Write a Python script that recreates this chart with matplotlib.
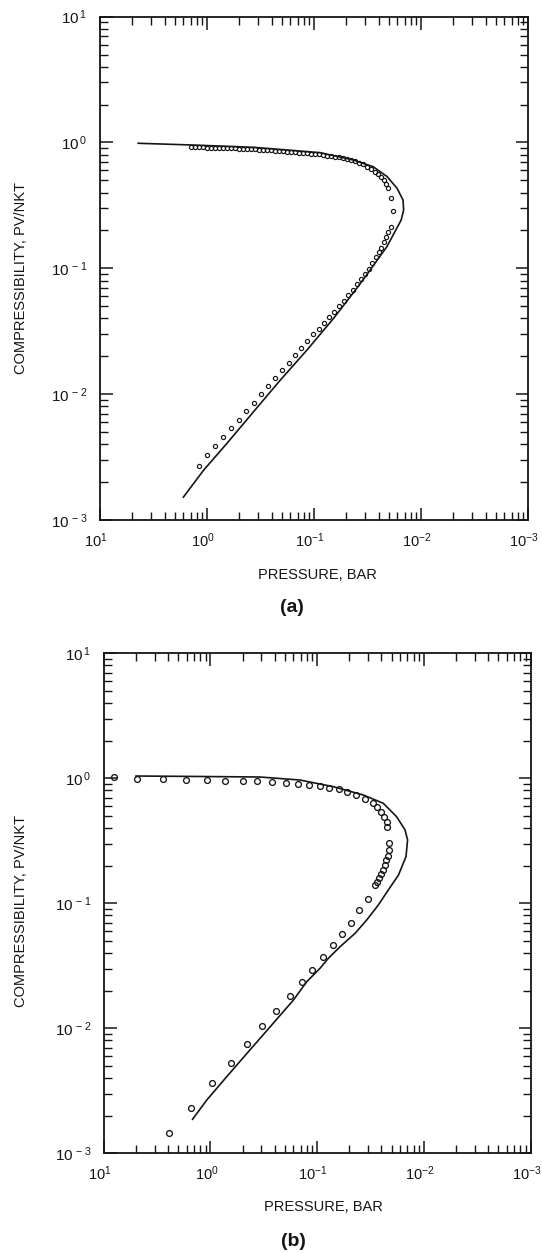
import matplotlib
matplotlib.use('Agg')
import matplotlib.pyplot as plt
import matplotlib.transforms as mtransforms
from matplotlib.ticker import LogLocator, NullFormatter

plt.rcParams['font.family'] = ['Liberation Sans', 'DejaVu Sans']
plt.rcParams['mathtext.default'] = 'regular'

INK = '#151515'

# (a) calculated curve
p_line_a = [4.42, 1.38, 0.372, 0.0879, 0.0432, 0.0281, 0.0208, 0.0168, 0.0148, 0.0146,
            0.0154, 0.0169, 0.0209, 0.0300, 0.0405, 0.0660, 0.117, 0.208, 0.369, 0.655,
            1.08, 1.67]
z_line_a = [0.986, 0.955, 0.916, 0.830, 0.726, 0.642, 0.535, 0.432, 0.349, 0.291,
            0.242, 0.209, 0.149, 0.0969, 0.0685, 0.0400, 0.0224, 0.0129, 0.00725, 0.00406,
            0.00249, 0.00152]

# (a) simulation points
p_pts_a = [1.41, 1.30, 1.19, 1.09, 1.00, 0.918, 0.842, 0.772, 0.709, 0.650,
           0.597, 0.547, 0.502, 0.461, 0.423, 0.388, 0.356, 0.327, 0.300, 0.275,
           0.252, 0.231, 0.212, 0.195, 0.179, 0.164, 0.151, 0.138, 0.127, 0.116,
           0.107, 0.0979, 0.0898, 0.0824, 0.0756, 0.0694, 0.0636, 0.0584, 0.0536, 0.0491,
           0.0451, 0.0414, 0.0380, 0.0348, 0.0320, 0.0293, 0.0269, 0.0252, 0.0237, 0.0222,
           0.0212, 0.0203,
           0.0193, 0.0184,
           0.0193, 0.0203, 0.0212, 0.0224, 0.0237, 0.0250, 0.0266, 0.0287, 0.0310, 0.0334,
           0.0364, 0.0396, 0.0437, 0.0481, 0.0530, 0.0584, 0.0650, 0.0724, 0.0806, 0.0908,
           0.102, 0.116, 0.132, 0.151, 0.173, 0.199, 0.231, 0.269, 0.313, 0.368,
           0.432, 0.508, 0.597, 0.709, 0.842, 1.00, 1.20]
z_pts_a = [0.921, 0.918, 0.914, 0.913, 0.911, 0.909, 0.908, 0.906, 0.904, 0.903,
           0.901, 0.898, 0.894, 0.891, 0.888, 0.885, 0.881, 0.878, 0.873, 0.869,
           0.864, 0.859, 0.854, 0.850, 0.845, 0.841, 0.836, 0.831, 0.827, 0.821,
           0.815, 0.809, 0.803, 0.796, 0.788, 0.781, 0.773, 0.764, 0.753, 0.741,
           0.726, 0.709, 0.690, 0.669, 0.644, 0.618, 0.588, 0.562, 0.532, 0.499,
           0.468, 0.435,
           0.365, 0.283,
           0.214, 0.194, 0.177, 0.162, 0.146, 0.134, 0.122, 0.110, 0.0996, 0.0909,
           0.0822, 0.0750, 0.0678, 0.0613, 0.0555, 0.0502, 0.0453, 0.0410, 0.0371, 0.0332,
           0.0298, 0.0264, 0.0233, 0.0205, 0.0178, 0.0155, 0.0134, 0.0116, 0.0100, 0.00857,
           0.00734, 0.00628, 0.00538, 0.00456, 0.00387, 0.00328, 0.00268]

# (b) calculated curve
p_line_b = [4.98, 1.25, 0.343, 0.145, 0.0705, 0.0369, 0.0240, 0.0180, 0.0150, 0.0142,
            0.0147, 0.0173, 0.0215, 0.0267, 0.0343, 0.0441, 0.0610, 0.0785, 0.0939, 0.125,
            0.167, 0.257, 0.426, 0.703, 1.08, 1.47]
z_line_b = [1.043, 1.034, 1.024, 0.969, 0.857, 0.735, 0.631, 0.493, 0.386, 0.321,
            0.236, 0.168, 0.128, 0.0969, 0.0735, 0.0575, 0.0449, 0.0363, 0.0302, 0.0236,
            0.0168, 0.0110, 0.00671, 0.00410, 0.00267, 0.00187]

# (b) simulation points
p_pts_b = [8.0, 4.84, 2.80, 1.69, 1.07, 0.730, 0.498, 0.368, 0.266, 0.197,
           0.151, 0.119, 0.0945, 0.0774, 0.0623, 0.0521, 0.0432, 0.0356, 0.0301, 0.0273,
           0.0252, 0.0236, 0.0223, 0.0220, 0.0211, 0.0214, 0.0219, 0.0225, 0.0233, 0.0241,
           0.0252, 0.0261, 0.0273, 0.0287, 0.0336, 0.0409, 0.0481, 0.0580, 0.0717, 0.0886,
           0.112, 0.139, 0.180, 0.244, 0.326, 0.457, 0.645, 0.972, 1.52, 2.43]
z_pts_b = [1.024, 0.996, 0.982, 0.969, 0.973, 0.960, 0.952, 0.943, 0.926, 0.912,
           0.900, 0.884, 0.868, 0.841, 0.817, 0.777, 0.735, 0.679, 0.631, 0.586,
           0.541, 0.493, 0.449, 0.406, 0.304, 0.267, 0.241, 0.220, 0.201, 0.185,
           0.170, 0.159, 0.149, 0.139, 0.108, 0.0876, 0.0696, 0.0571, 0.0466, 0.0372,
           0.0293, 0.0235, 0.0181, 0.0138, 0.0104, 0.00749, 0.00531, 0.00363, 0.00232, 0.00145]

x_ticks = [10, 1, 0.1, 0.01, 0.001]
x_labels = [r'$10^{1}$', r'$10^{0}$', r'$10^{-1}$', r'$10^{-2}$', r'$10^{-3}$']
y_ticks = [0.001, 0.01, 0.1, 1, 10]
y_labels = [r'$10^{\,-3}$', r'$10^{\,-2}$', r'$10^{\,-1}$', r'$10^{\,0}$', r'$10^{\,1}$']
# the original draws the x minor ticks bunched toward the right end of each decade
x_minor = [10.0 ** (k + 1) / m for k in range(-3, 1) for m in range(2, 10)]


def style_axes(ax):
    ax.set_xscale('log')
    ax.set_yscale('log')
    ax.set_xlim(10, 1e-3)
    ax.set_ylim(1e-3, 10)
    ax.set_xticks(x_ticks)
    ax.set_xticklabels(x_labels)
    ax.set_xticks(x_minor, minor=True)
    ax.xaxis.set_minor_formatter(NullFormatter())
    ax.set_yticks(y_ticks)
    ax.set_yticklabels(y_labels)
    ax.yaxis.set_minor_locator(LogLocator(base=10, subs=range(2, 10)))
    ax.yaxis.set_minor_formatter(NullFormatter())
    ax.tick_params(which='both', direction='in', top=True, right=True,
                   color=INK, labelcolor=INK)
    ax.tick_params(axis='y', labelsize=11, pad=9)
    ax.tick_params(axis='x', labelsize=10.5, pad=8)
    ax.tick_params(which='major', length=9, width=1.1)
    ax.tick_params(which='minor', length=6, width=1.0)
    # x labels in the original sit a little left of their ticks
    shift = mtransforms.ScaledTranslation(-4 / 100, 0, ax.figure.dpi_scale_trans)
    for lab in ax.get_xticklabels():
        lab.set_transform(lab.get_transform() + shift)
    for s in ax.spines.values():
        s.set_linewidth(1.3)
        s.set_color(INK)


fig = plt.figure(figsize=(5.42, 12.53), dpi=100)
ax_a = fig.add_axes([0.1849, 0.5850, 0.7897, 0.4017])
ax_b = fig.add_axes([0.1913, 0.0796, 0.7876, 0.3990])

ax_a.plot(p_line_a, z_line_a, color=INK, lw=1.2)
ax_a.plot(p_pts_a, z_pts_a, 'o', ms=3.0, mfc='none', mec=INK, mew=0.85)
ax_b.plot(p_line_b, z_line_b, color=INK, lw=1.2)
ax_b.plot(p_pts_b, z_pts_b, 'o', ms=4.2, mfc='none', mec=INK, mew=0.95)

for ax in (ax_a, ax_b):
    style_axes(ax)

W, H = 542, 1253
fig.text(21 / W, 1 - 278 / H, 'COMPRESSIBILITY, PV/NKT', rotation=90,
         ha='center', va='center', fontsize=10.5, color=INK)
fig.text(21 / W, 1 - 911 / H, 'COMPRESSIBILITY, PV/NKT', rotation=90,
         ha='center', va='center', fontsize=10.5, color=INK)
fig.text(317 / W, 1 - 575 / H, 'PRESSURE, BAR', ha='center', va='center',
         fontsize=10.5, color=INK)
fig.text(323 / W, 1 - 1207 / H, 'PRESSURE, BAR', ha='center', va='center',
         fontsize=10.5, color=INK)
fig.text(292 / W, 1 - 608 / H, '(a)', ha='center', va='center',
         fontsize=14, fontweight='bold', color=INK)
fig.text(293 / W, 1 - 1241 / H, '(b)', ha='center', va='center',
         fontsize=14, fontweight='bold', color=INK)

fig.savefig('out.png', dpi=100)
